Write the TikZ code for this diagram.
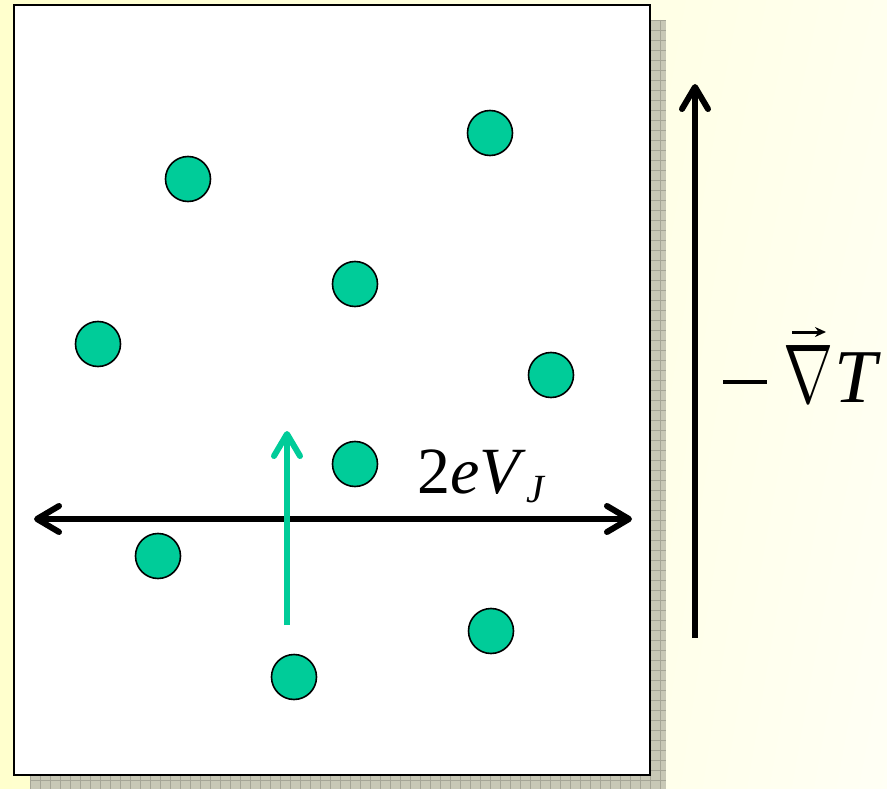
\documentclass[tikz,border=0pt]{standalone}
\usepackage{fontspec}
\setmainfont{Liberation Serif}
\usetikzlibrary{arrows.meta,shadings}
\definecolor{bgA}{RGB}{255,255,205}
\definecolor{bgB}{RGB}{255,255,238}
\definecolor{shadowc}{RGB}{200,200,182}
\definecolor{gridc}{RGB}{165,165,150}
\definecolor{dotgreen}{RGB}{0,204,153}
\tikzset{
  dot/.style={circle,draw=black,line width=1.6pt,fill=dotgreen,minimum size=45pt,inner sep=0pt},
  bigarrow/.style={line width=6pt,-{Straight Barb[length=22pt,width=26pt,line cap=round,line join=round]}},
  bigarrows/.style={line width=6pt,{Straight Barb[length=22pt,width=26pt,line cap=round,line join=round]}-{Straight Barb[length=22pt,width=26pt,line cap=round,line join=round]}},
  lbl/.style={inner sep=0pt,text=black}
}
\begin{document}
\begin{tikzpicture}[x=1pt,y=-1pt]
\useasboundingbox (0,0) rectangle (887,789);
\shade[upper left=bgA,lower left=bgA,upper right=bgB,lower right=bgB!60!white] (0,0) rectangle (887,789);
% shadow
\fill[shadowc] (30,20) rectangle (666,789);
\begin{scope}
\clip (30,20) rectangle (666,789);
\foreach \i in {0,...,80} {
  \draw[gridc,line width=0.8pt] (30+10*\i,20) -- (30+10*\i,789);
  \draw[gridc,line width=0.8pt] (30,20+10*\i) -- (666,20+10*\i);
}
\end{scope}
% panel
\draw[fill=white,line width=2.5pt] (14,5) rectangle (650,775);
% dots
\node[dot] (d1) at (188,179) {};
\node[dot] (d2) at (490,133) {};
\node[dot] (d3) at (355,284) {};
\node[dot] (d4) at (98,344) {};
\node[dot] (d5) at (551,375) {};
\node[dot] (d6) at (355,464) {};
\node[dot] (d7) at (158,556) {};
\node[dot] (d8) at (491,631) {};
\node[dot] (d9) at (294,677) {};
% arrows
\coordinate (hL) at (34,519);
\coordinate (hR) at (632,519);
\draw[bigarrows] (hL) -- (hR);
\coordinate (gB) at (287,625);
\coordinate (gT) at (287,431);
\draw[bigarrow,draw=dotgreen] (gB) -- (gT);
\coordinate (vB) at (695,638);
\coordinate (vT) at (695,84);
\draw[bigarrow] (vB) -- (vT);
% labels
\node[lbl,anchor=base west,font=\fontsize{66}{70}\selectfont] (lab1) at (417,493) {2\textit{eV}\raisebox{-9pt}{\fontsize{40}{42}\selectfont\textit{J}}};
\node[lbl,anchor=base west,font=\fontsize{76}{80}\selectfont] (lab2) at (723,402) {\makebox[60pt][l]{\raisebox{18pt}{\rule{44pt}{4.5pt}}}\resizebox{50pt}{57pt}{$\nabla$}\hspace{1pt}\textit{T}};
\coordinate (nA) at (792,332);
\coordinate (nB) at (826,332);
\draw[line width=3pt,-{Stealth[length=11pt,width=10pt]}] (nA) -- (nB);
\end{tikzpicture}
\end{document}
